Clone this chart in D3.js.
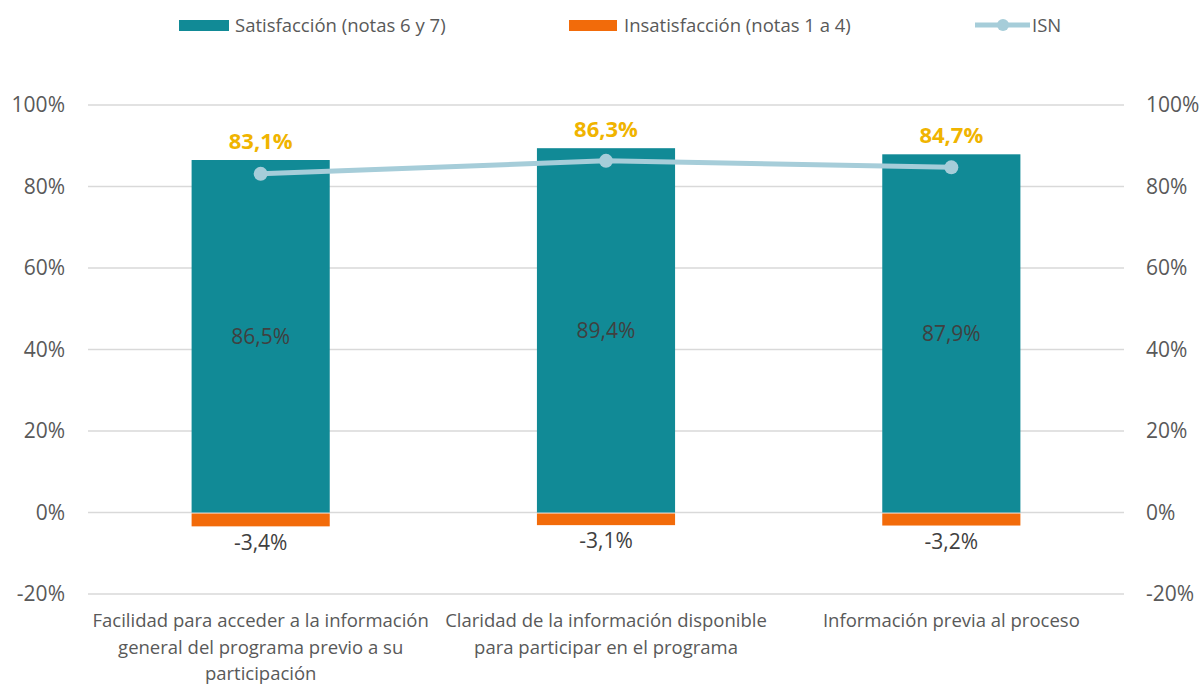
<!DOCTYPE html>
<html>
<head>
<meta charset="utf-8">
<script src="https://cdn.jsdelivr.net/npm/d3@7"></script>
<style>
  body { margin: 0; background: #fff; }
  svg text { font-family: "Liberation Sans Narrow", "Open Sans", sans-serif; }
</style>
</head>
<body>
<svg id="chart" width="1202" height="684"></svg>
<script>
// chart data
var categories = [
  ["Facilidad para acceder a la información", "general del programa previo a su", "participación"],
  ["Claridad de la información disponible", "para participar en el programa"],
  ["Información previa al proceso"]
];
var satisfaccion = [86.5, 89.4, 87.9];
var insatisfaccion = [-3.4, -3.1, -3.2];
var isn = [83.1, 86.3, 84.7];
var yTicks = [-20, 0, 20, 40, 60, 80, 100];

var teal = "#118A96", orange = "#F26B0A", lightBlue = "#A6CDD9", gold = "#F0B400", grey = "#595959";

var svg = d3.select("#chart");
var plotLeft = 88, plotRight = 1124, plotTop = 105, plotBottom = 594;

var x = d3.scaleBand()
  .domain(d3.range(categories.length))
  .range([plotLeft, plotRight])
  .paddingInner(0.6)
  .paddingOuter(0.3);

var y = d3.scaleLinear().domain([-20, 100]).range([plotBottom, plotTop]);

function fmt(v) { return v.toFixed(1).replace(".", ",") + "%"; }
function cx(d, i) { return x(i) + x.bandwidth() / 2; }

// gridlines
svg.append("g").selectAll("line")
  .data(yTicks)
  .enter().append("line")
  .attr("x1", plotLeft).attr("x2", plotRight)
  .attr("y1", function(d){ return y(d); })
  .attr("y2", function(d){ return y(d); })
  .attr("stroke", "#d9d9d9").attr("stroke-width", 1.5);

// left & right axis labels
svg.append("g").selectAll("text")
  .data(yTicks)
  .enter().append("text")
  .attr("x", 65).attr("y", function(d){ return y(d); })
  .attr("dy", "0.35em").attr("text-anchor", "end")
  .attr("fill", grey).style("font-size", "21px")
  .text(function(d){ return d + "%"; });
svg.append("g").selectAll("text")
  .data(yTicks)
  .enter().append("text")
  .attr("x", 1146).attr("y", function(d){ return y(d); })
  .attr("dy", "0.35em").attr("text-anchor", "start")
  .attr("fill", grey).style("font-size", "21px")
  .text(function(d){ return d + "%"; });

// satisfaction bars
svg.append("g").selectAll("rect")
  .data(satisfaccion)
  .enter().append("rect")
  .attr("x", function(d, i){ return x(i); })
  .attr("width", x.bandwidth())
  .attr("y", function(d){ return y(d); })
  .attr("height", function(d){ return y(0) - y(d); })
  .attr("fill", teal);

// insatisfaction bars
svg.append("g").selectAll("rect")
  .data(insatisfaccion)
  .enter().append("rect")
  .attr("x", function(d, i){ return x(i); })
  .attr("width", x.bandwidth())
  .attr("y", y(0) + 1)
  .attr("height", function(d){ return y(d) - y(0) - 1; })
  .attr("fill", orange);

// bar value labels
svg.append("g").selectAll("text")
  .data(satisfaccion)
  .enter().append("text")
  .attr("x", cx)
  .attr("y", function(d){ return (y(d) + y(0)) / 2; })
  .attr("dy", "0.35em").attr("text-anchor", "middle")
  .attr("fill", "#404040").style("font-size", "21px")
  .text(fmt);

svg.append("g").selectAll("text")
  .data(insatisfaccion)
  .enter().append("text")
  .attr("x", cx)
  .attr("y", function(d){ return y(d) + 16; })
  .attr("dy", "0.35em").attr("text-anchor", "middle")
  .attr("fill", "#404040").style("font-size", "21px")
  .text(fmt);

// ISN line
var line = d3.line()
  .x(cx)
  .y(function(d){ return y(d); });

svg.append("path")
  .datum(isn)
  .attr("d", line)
  .attr("fill", "none")
  .attr("stroke", lightBlue)
  .attr("stroke-width", 5);

svg.append("g").selectAll("circle")
  .data(isn)
  .enter().append("circle")
  .attr("cx", cx)
  .attr("cy", function(d){ return y(d); })
  .attr("r", 7)
  .attr("fill", lightBlue);

svg.append("g").selectAll("text")
  .data(isn)
  .enter().append("text")
  .attr("x", cx)
  .attr("y", function(d, i){ return y(satisfaccion[i]) - 19; })
  .attr("dy", "0.35em").attr("text-anchor", "middle")
  .attr("fill", gold).style("font-size", "22px").style("font-weight", "bold")
  .text(fmt);

// category labels
var cat = svg.append("g").selectAll("text")
  .data(categories)
  .enter().append("text")
  .attr("x", cx)
  .attr("y", 627)
  .attr("text-anchor", "middle")
  .attr("fill", grey).style("font-size", "18.5px");
cat.selectAll("tspan")
  .data(function(d){ return d; })
  .enter().append("tspan")
  .attr("x", function(){ return d3.select(this.parentNode).attr("x"); })
  .attr("dy", function(d, j){ return j === 0 ? 0 : 26.5; })
  .text(function(d){ return d; });

// legend
var lg = svg.append("g");
lg.append("rect").attr("x", 179).attr("y", 20).attr("width", 50).attr("height", 11).attr("fill", teal);
lg.append("text").attr("x", 235).attr("y", 26).attr("dy", "0.35em").attr("fill", grey)
  .style("font-size", "18.5px").text("Satisfacción (notas 6 y 7)");
lg.append("rect").attr("x", 569).attr("y", 20).attr("width", 48).attr("height", 11).attr("fill", orange);
lg.append("text").attr("x", 624).attr("y", 26).attr("dy", "0.35em").attr("fill", grey)
  .style("font-size", "18.5px").text("Insatisfacción (notas 1 a 4)");
lg.append("line").attr("x1", 975).attr("x2", 1030).attr("y1", 25).attr("y2", 25)
  .attr("stroke", lightBlue).attr("stroke-width", 5);
lg.append("circle").attr("cx", 1003).attr("cy", 25).attr("r", 6).attr("fill", lightBlue);
lg.append("text").attr("x", 1032).attr("y", 26).attr("dy", "0.35em").attr("fill", grey)
  .style("font-size", "18.5px").text("ISN");
</script>
</body>
</html>
